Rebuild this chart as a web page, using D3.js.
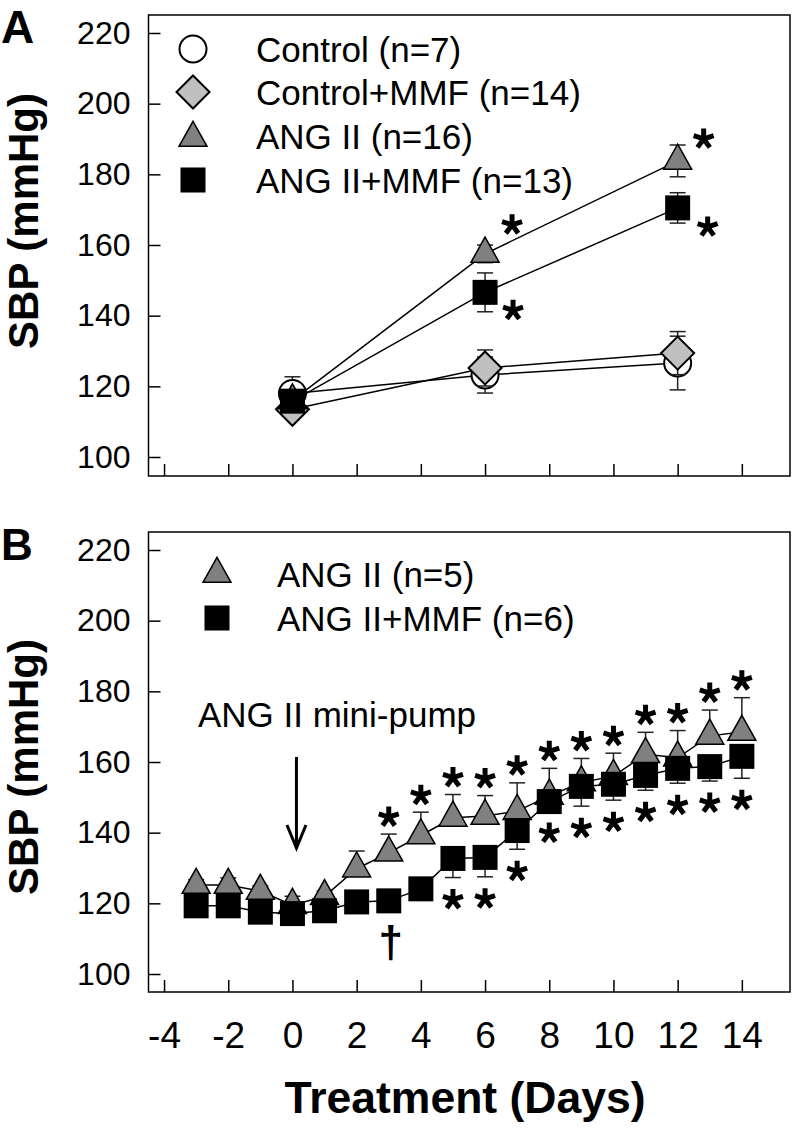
<!DOCTYPE html>
<html><head><meta charset="utf-8">
<script src="https://cdn.jsdelivr.net/npm/d3@7"></script>
<style>body{margin:0;background:#fff} svg{display:block} text{font-family:"Liberation Sans",Arial,Helvetica,sans-serif}</style>
</head><body><svg id="c" width="796" height="1129"></svg>
<script>
// ---------- data ----------
const daysA = [0, 6, 12];
const ctrlA = [118, 123.2, 126.6],      ctrlAErr = [4.7, 5.1, 7.6];
const ctrlMmfA = [113.5, 125.2, 129.4], ctrlMmfAErr = [2.5, 5.1, 6.1];
const angA = [116, 157.5, 183.8],       angAErr = [2, 2.5, 4.5];
const angMmfA = [115.8, 146.6, 170.5],  angMmfAErr = [2, 5.5, 4.3];

const daysB = [-3,-2,-1,0,1,2,3,4,5,6,7,8,9,10,11,12,13,14];
const angB =    [125.2,125.2,123.5,119.5,122,129.8,134.3,139.2,144.2,144.7,146.1,150.4,154.2,156,162.2,161.2,167.4,168.5];
const angBErr = [1.5,2,1.5,2.5,1.5,5,5.3,6.6,6.6,5.8,8,7.8,6.8,6.5,6.2,7.7,7.3,9.7];
const angMmfB =    [119.3,119.3,117.5,117.1,117.9,120.4,120.7,124.1,132.7,133,140.6,148.8,153.1,153.7,156.2,158.2,158.7,161.6];
const angMmfBErr = [1.5,1.5,1.5,1.5,1.5,1.5,1.5,1.5,5.4,5.5,5.3,2.7,5.6,4.5,4.2,4.2,4.1,6.2];

const xTicks = [-4,-2,0,2,4,6,8,10,12,14];
const yTicks = [100,120,140,160,180,200,220];
const legendA = ["Control (n=7)","Control+MMF (n=14)","ANG II (n=16)","ANG II+MMF (n=13)"];
const legendB = ["ANG II (n=5)","ANG II+MMF (n=6)"];
const starsAboveB = [3,4,5,6,7,8,9,10,11,12,13,14];
const starsBelowB = [5,6,7,8,9,10,11,12,13,14];
const daggerB = [3];

// ---------- layout ----------
const svg = d3.select("#c");
const x = d3.scaleLinear().domain([-4.5, 15.5]).range([148, 790]);
const panels = {
  A: {top: 15, bottom: 476, y: d3.scaleLinear().domain([100, 220]).range([457, 33])},
  B: {top: 532, bottom: 992, y: d3.scaleLinear().domain([100, 220]).range([974, 550])}
};
const FONT = '"Liberation Sans",Arial,Helvetica,sans-serif';

function drawFrame(p, showX) {
  const g = svg.append("g");
  g.append("rect").attr("x", 148.5).attr("y", p.top).attr("width", 790 - 148.5).attr("height", p.bottom - p.top)
    .attr("fill", "none").attr("stroke", "#000").attr("stroke-width", 1.5);
  const ya = g.append("g").attr("transform", "translate(148.5,0)")
    .call(d3.axisLeft(p.y).tickValues(yTicks).tickSize(-12).tickPadding(18).tickSizeOuter(0));
  ya.select(".domain").remove();
  ya.selectAll("line").attr("stroke-width", 1.5);
  ya.selectAll("text").attr("font-size", 32).attr("font-family", FONT).attr("fill", "#000");
  const xa = g.append("g").attr("transform", `translate(0,${p.bottom})`)
    .call(d3.axisBottom(x).tickValues(xTicks).tickSize(-12).tickPadding(30).tickSizeOuter(0)
      .tickFormat(showX ? d3.format("d") : () => ""));
  xa.select(".domain").remove();
  xa.selectAll("line").attr("stroke-width", 1.5);
  xa.selectAll("text").attr("font-size", 37).attr("font-family", FONT).attr("fill", "#000")
    .text(d => showX ? String(d) : "");
}

// marker shapes
function marker(g, type, cx, cy) {
  if (type === "circle") {
    g.append("circle").attr("cx", cx).attr("cy", cy).attr("r", 13.5)
      .attr("fill", "#fff").attr("stroke", "#000").attr("stroke-width", 2);
  } else if (type === "diamond") {
    const h = 16.5;
    g.append("path").attr("d", `M${cx},${cy-h}L${cx+h},${cy}L${cx},${cy+h}L${cx-h},${cy}Z`)
      .attr("fill", "#c0c0c0").attr("stroke", "#000").attr("stroke-width", 2);
  } else if (type === "triangle") {
    const w = 14, hUp = 16.7, hDn = 8.3;
    g.append("path").attr("d", `M${cx},${cy-hUp}L${cx+w},${cy+hDn}L${cx-w},${cy+hDn}Z`)
      .attr("fill", "#808080").attr("stroke", "#000").attr("stroke-width", 1.5);
  } else if (type === "square") {
    g.append("rect").attr("x", cx - 12.5).attr("y", cy - 12.5).attr("width", 25).attr("height", 25)
      .attr("fill", "#000");
  }
}

function series(p, days, vals, errs, type, dir) {
  const g = svg.append("g");
  const line = d3.line().x((d, i) => x(days[i])).y(d => p.y(d));
  g.append("path").attr("d", line(vals)).attr("fill", "none").attr("stroke", "#000").attr("stroke-width", 1.5);
  vals.forEach((v, i) => {
    const cx = x(days[i]);
    const ends = [];
    if (dir !== "down") ends.push(v + errs[i]);
    if (dir !== "up") ends.push(v - errs[i]);
    ends.forEach(e => {
      g.append("line").attr("x1", cx).attr("x2", cx).attr("y1", p.y(v)).attr("y2", p.y(e))
        .attr("stroke", "#222").attr("stroke-width", 1.5);
      g.append("line").attr("x1", cx - 8).attr("x2", cx + 8).attr("y1", p.y(e)).attr("y2", p.y(e))
        .attr("stroke", "#222").attr("stroke-width", 1.5);
    });
  });
  vals.forEach((v, i) => marker(g, type, x(days[i]), p.y(v)));
}

function star(cx, cy) {
  const r = 10.5;
  let d = "";
  for (let k = 0; k < 5; k++) {
    const a = -Math.PI / 2 + k * 2 * Math.PI / 5;
    d += `M${cx},${cy}L${cx + r * Math.cos(a)},${cy + r * Math.sin(a)}`;
  }
  svg.append("path").attr("d", d).attr("stroke", "#000").attr("stroke-width", 5).attr("fill", "none");
}

// ---------- Panel A ----------
const A = panels.A;
drawFrame(A, false);
series(A, daysA, ctrlA, ctrlAErr, "circle", "both");
series(A, daysA, ctrlMmfA, ctrlMmfAErr, "diamond", "both");
series(A, daysA, angA, angAErr, "triangle", "both");
series(A, daysA, angMmfA, angMmfAErr, "square", "both");
// significance stars (placed beside the markers)
[[angA, 1, 27, -29], [angA, 2, 26, -22], [angMmfA, 1, 28, 18], [angMmfA, 2, 30, 19]]
  .forEach(([s, i, dx, dy]) => star(x(daysA[i]) + dx, A.y(s[i]) + dy));

// legend A
const legTypesA = ["circle", "diamond", "triangle", "square"];
const legRowsA = [49, 92, 136, 180];
legendA.forEach((t, i) => {
  const g = svg.append("g");
  marker(g, legTypesA[i], 193, legRowsA[i] + (legTypesA[i] === "triangle" ? 2 : 0));
  g.append("text").attr("x", 256).attr("y", legRowsA[i] + 12.5).attr("font-size", 35).text(t);
});

// ---------- Panel B ----------
const B = panels.B;
drawFrame(B, true);
series(B, daysB, angB, angBErr, "triangle", "up");
series(B, daysB, angMmfB, angMmfBErr, "square", "down");
starsAboveB.forEach(d => {
  const i = daysB.indexOf(d);
  star(x(d), B.y(angB[i] + angBErr[i]) - 17);
});
starsBelowB.forEach(d => {
  const i = daysB.indexOf(d);
  star(x(d), B.y(angMmfB[i] - angMmfBErr[i]) + 22);
});
daggerB.forEach(d => {
  svg.append("text").attr("x", x(d) + 2).attr("y", 957).attr("text-anchor", "middle")
    .attr("font-size", 44).attr("font-weight", "bold").text("\u2020");
});

// legend B
const legTypesB = ["triangle", "square"];
const legRowsB = [574, 618];
legendB.forEach((t, i) => {
  const g = svg.append("g");
  marker(g, legTypesB[i], 217, legRowsB[i]);
  g.append("text").attr("x", 277).attr("y", legRowsB[i] + 12.5).attr("font-size", 35).text(t);
});

// mini-pump annotation
svg.append("text").attr("x", 337).attr("y", 727).attr("text-anchor", "middle").attr("font-size", 35)
  .text("ANG II mini-pump");
const ax = x(0) + 4;
svg.append("path").attr("d", `M${ax},757L${ax},848M${ax-9.5},825L${ax},848L${ax+9.5},825`)
  .attr("fill", "none").attr("stroke", "#000").attr("stroke-width", 3);

// ---------- titles ----------
svg.append("text").attr("x", 1).attr("y", 43).attr("font-size", 46).attr("font-weight", "bold").text("A");
svg.append("text").attr("x", 1).attr("y", 560).attr("font-size", 44).attr("font-weight", "bold").text("B");
[[221, 38], [767, 38]].forEach(([cy, bx]) => {
  svg.append("text").attr("transform", `translate(${bx},${cy}) rotate(-90)`).attr("text-anchor", "middle")
    .attr("font-size", 42).attr("font-weight", "bold").text("SBP (mmHg)");
});
svg.append("text").attr("x", 465).attr("y", 1113).attr("text-anchor", "middle")
  .attr("font-size", 44.5).attr("font-weight", "bold").text("Treatment (Days)");
</script></body></html>
